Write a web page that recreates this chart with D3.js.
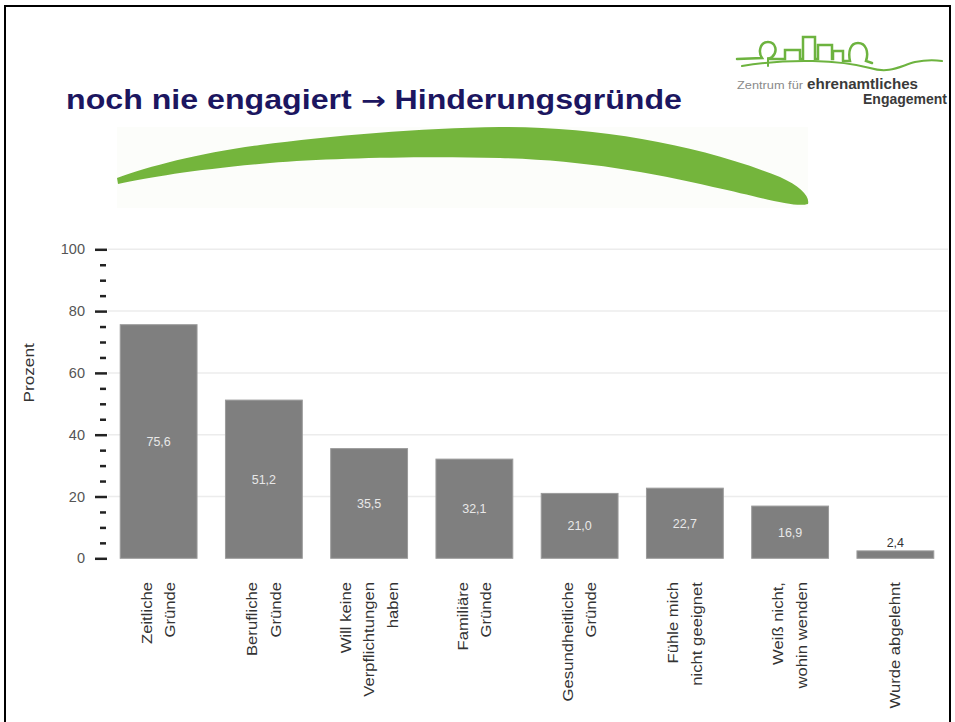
<!DOCTYPE html>
<html>
<head>
<meta charset="utf-8">
<style>
  body {margin: 0; background: #fff; font-family: "Liberation Sans", Arial, sans-serif;}
</style>
<script src="https://d3js.org/d3.v7.min.js"></script>
</head>
<body>
<div id="chart"></div>
<script>

// data
const categories = [
  ["Zeitliche", "Gründe"],
  ["Berufliche", "Gründe"],
  ["Will keine", "Verpflichtungen", "haben"],
  ["Familiäre", "Gründe"],
  ["Gesundheitliche", "Gründe"],
  ["Fühle mich", "nicht geeignet"],
  ["Weiß nicht,", "wohin wenden"],
  ["Wurde abgelehnt"]
]
const values = [75.6, 51.2, 35.5, 32.1, 21.0, 22.7, 16.9, 2.4]
const majorTicks = [0, 20, 40, 60, 80, 100]
const minorTicks = d3.range(0, 101, 5).filter(d => d % 20 !== 0)
const titleParts = ["noch nie engagiert ", "\u2192", " Hinderungsgründe"]
const yTitle = "Prozent"

const width = 955
const height = 722

const de = d3.formatLocale({decimal: ",", thousands: ".", grouping: [3], currency: ["", " €"]})
const fmt = de.format(".1f")

const svg = d3.select('#chart').append('svg')
  .attr('width', width)
  .attr('height', height)

// slide frame
svg.append('rect')
  .attr('x', 5).attr('y', 6)
  .attr('width', 945).attr('height', 740)
  .attr('fill', '#fff')
  .attr('stroke', '#000')
  .attr('stroke-width', 2)

// title
const t = svg.append('text')
  .attr('x', 66).attr('y', 109)
  .attr('textLength', 616)
  .attr('lengthAdjust', 'spacingAndGlyphs')
  .style('font-size', '27px')
  .style('font-weight', 'bold')
  .style('fill', '#1c1660')
t.selectAll('tspan')
  .data(titleParts)
  .enter().append('tspan')
  .style('font-family', (d, i) => i === 1 ? '"DejaVu Sans", sans-serif' : null)
  .style('font-size', (d, i) => i === 1 ? '25px' : null)
  .text(d => d)

// green swoosh under the title
svg.append('rect')
  .attr('x', 117).attr('y', 127).attr('width', 691).attr('height', 81)
  .attr('fill', '#fcfdfa')
svg.append('path')
  .attr('d', 'M117,178 C150,166 200,153 260,145 C330,136 420,128 500,127 C600,127 700,145 780,177 ' +
             'C800,186 810,196 808,204 C795,208 760,197 713,187 C650,172 580,160 500,158 ' +
             'C420,156 330,158 270,163 C200,169 150,177 118,184 Z')
  .attr('fill', '#74b53c')

// logo (rough line art + lettering)
const logo = svg.append('g')
  .attr('fill', 'none')
  .attr('stroke', '#6db33f')
  .attr('stroke-width', 2.5)
  .attr('stroke-linecap', 'round')
logo.append('path')
  .attr('d', 'M737,59 L762,58 C758,52 760,42 768,42 C776,42 778,52 772,57 L768,59 L785,59 L785,50 L800,50 L800,59 ' +
             'L803,59 L803,37 L815,37 L815,59 L818,59 L818,45 L832,45 L832,59 L833,59 L833,51 L843,51 L843,61 ' +
             'L850,61 C848,52 850,43 858,43 C866,43 869,52 866,61 L872,63')
logo.append('path')
  .attr('d', 'M742,66 C790,58 840,60 870,68 C890,74 900,66 915,62 C925,60 935,60 942,61')
  .attr('stroke-width', 2)
logo.append('path')
  .attr('d', 'M768,58 L768,66')
  .attr('stroke-width', 2)

svg.append('text')
  .attr('x', 737).attr('y', 89)
  .attr('textLength', 66)
  .attr('lengthAdjust', 'spacingAndGlyphs')
  .style('font-size', '11px')
  .style('fill', '#8a8a8a')
  .text('Zentrum für')
svg.append('text')
  .attr('x', 807).attr('y', 89)
  .attr('textLength', 111)
  .attr('lengthAdjust', 'spacingAndGlyphs')
  .style('font-size', '15px')
  .style('font-weight', 'bold')
  .style('fill', '#3a3a3a')
  .text('ehrenamtliches')
svg.append('text')
  .attr('x', 947).attr('y', 104)
  .attr('text-anchor', 'end')
  .attr('textLength', 84)
  .attr('lengthAdjust', 'spacingAndGlyphs')
  .style('font-size', '15px')
  .style('font-weight', 'bold')
  .style('fill', '#3a3a3a')
  .text('Engagement')

// scales
const x = d3.scaleBand()
  .domain(d3.range(values.length))
  .range([106, 948])
  .paddingInner(0.27)
  .paddingOuter(0.135)

const y = d3.scaleLinear()
  .domain([0, 100])
  .range([558.3, 249.3])

// grid
svg.append('g')
  .selectAll('line')
  .data(majorTicks.filter(d => d > 0))
  .enter().append('line')
  .attr('x1', 108).attr('x2', 948)
  .attr('y1', d => y(d)).attr('y2', d => y(d))
  .attr('stroke', '#ececec')
  .attr('stroke-width', 1.5)

// y axis: major + minor ticks, no axis line
const yAxis = svg.append('g')
  .attr('transform', 'translate(107,0)')
  .call(d3.axisLeft(y).tickValues(majorTicks).tickSize(12).tickPadding(10))
yAxis.select('.domain').remove()
yAxis.selectAll('.tick line').attr('stroke', '#222').attr('stroke-width', 2.5)
yAxis.selectAll('.tick text')
  .style('font-family', '"Liberation Sans", Arial, sans-serif')
  .style('font-size', '14.5px')
  .style('fill', '#555')

const yMinor = svg.append('g')
  .attr('transform', 'translate(106,0)')
  .call(d3.axisLeft(y).tickValues(minorTicks).tickSize(6).tickFormat(''))
yMinor.select('.domain').remove()
yMinor.selectAll('.tick line').attr('stroke', '#222').attr('stroke-width', 2.5)

svg.append('text')
  .attr('transform', 'translate(29,' + y(60) + ') scale(1,1.15) rotate(-90)')
  .attr('text-anchor', 'middle')
  .attr('dy', '0.35em')
  .style('font-size', '15px')
  .style('fill', '#333')
  .text(yTitle)

// bars
svg.append('g')
  .selectAll('rect')
  .data(values)
  .enter().append('rect')
  .attr('x', (d, i) => x(i))
  .attr('y', d => y(d))
  .attr('width', x.bandwidth())
  .attr('height', d => y(0) - y(d))
  .attr('fill', '#7f7f7f')
  .attr('stroke', '#9b9b9b')
  .attr('stroke-width', 1)

// value labels: centred inside, above the bar when it is too small
svg.append('g')
  .selectAll('text')
  .data(values)
  .enter().append('text')
  .attr('x', (d, i) => x(i) + x.bandwidth() / 2)
  .attr('y', d => (y(0) - y(d) > 20) ? (y(d) + y(0)) / 2 : y(d) - 4)
  .attr('dy', d => (y(0) - y(d) > 20) ? '0.35em' : 0)
  .attr('text-anchor', 'middle')
  .style('font-size', '12.5px')
  .style('fill', d => (y(0) - y(d) > 20) ? '#e8e8e8' : '#333')
  .text(d => fmt(d))

// category labels, rotated, lines stacked side by side
const lineGap = 23.5
const cat = svg.append('g')
  .selectAll('g')
  .data(categories)
  .enter().append('g')

cat.selectAll('text')
  .data((d, i) => d.map((line, j) => ({line: line, i: i, j: j, n: d.length})))
  .enter().append('text')
  .attr('transform', d => {
    const cx = x(d.i) + x.bandwidth() / 2 + (d.j - (d.n - 1) / 2) * lineGap
    return 'translate(' + cx + ',582) scale(1,1.19) rotate(-90)'
  })
  .attr('text-anchor', 'end')
  .attr('dy', '0.35em')
  .style('font-size', '14px')
  .style('fill', '#333')
  .text(d => d.line)

</script>
</body>
</html>
